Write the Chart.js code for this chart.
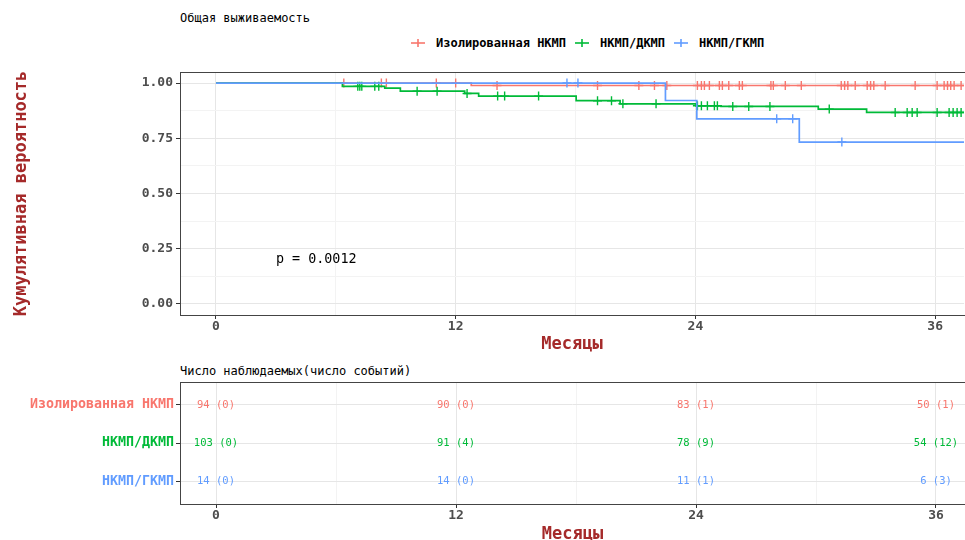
<!DOCTYPE html>
<html>
<head>
<meta charset="utf-8">
<script src="https://cdn.jsdelivr.net/npm/chart.js@4.4.0/dist/chart.umd.min.js"></script>
<style>
  body { margin: 0; background: #fff; width: 965px; height: 540px; overflow: hidden; position: relative; font-family: "DejaVu Sans Mono", monospace; }
  #kmWrap { position: absolute; left: 0; top: 0; }
  #riskWrap { position: absolute; left: 0; top: 360px; }
  .ttl { position: absolute; font-size: 12px; color: #000; white-space: nowrap; line-height: 14px; }
  #legend { position: absolute; top: 36px; left: 411px; font-size: 12px; font-weight: bold; color: #000; display: flex; align-items: center; white-space: nowrap; line-height: 14px; }
  #legend svg { margin-right: 11px; }
  #legend span { margin-right: 9px; }
</style>
</head>
<body>
<div class="ttl" style="left:180px; top:11px;">Общая выживаемость</div>
<div id="legend"></div>
<div class="ttl" style="left:180px; top:364px;">Число наблюдаемых(число событий)</div>
<div id="kmWrap"><canvas id="km" width="970" height="360"></canvas></div>
<div id="riskWrap"><canvas id="risk" width="965" height="185"></canvas></div>
<script>
// groups
const groups = ['Изолированная НКМП', 'НКМП/ДКМП', 'НКМП/ГКМП'];
const groupColors = ['#F8766D', '#00BA38', '#619CFF'];

// Kaplan-Meier steps (months, survival)
const isoTimes = [0, 12.78, 38];
const isoSurv = [1, 0.989, 0.989];
const isoCensor = [6.4, 8.28, 8.53, 11.03, 12.0, 14.07, 19.1, 21.17, 21.95, 22.57, 24.1, 24.3, 24.45, 24.7,
  25.2, 25.35, 25.67, 26.2, 26.35, 27.78, 27.9, 28.5, 29.3, 31.3, 31.47, 31.63, 32.0, 32.6, 32.77, 32.93,
  33.5, 35.0, 36.1, 36.45, 36.62, 36.78, 36.95, 37.3];

const dcmTimes = [0, 6.33, 8.45, 9.23, 12.45, 13.15, 18.03, 20.23, 24.03, 25.28, 30.15, 32.57, 38];
const dcmSurv = [1, 0.985, 0.977, 0.963, 0.953, 0.941, 0.920, 0.906, 0.897, 0.894, 0.882, 0.867, 0.867];
const dcmCensor = [7.1, 7.2, 7.3, 7.95, 8.15, 10.07, 11.07, 12.57, 14.1, 14.45, 16.15, 19.1, 19.8, 20.37,
  22.03, 24.1, 24.3, 24.6, 24.95, 25.1, 25.87, 26.67, 27.73, 30.7, 34.0, 34.6, 34.85, 35.1, 36.1, 36.7,
  36.9, 37.1, 37.3];

const gcmTimes = [0, 22.5, 24.07, 29.2, 38];
const gcmSurv = [1, 0.921, 0.838, 0.733, 0.733];
const gcmCensor = [17.57, 18.12, 28.07, 28.87, 31.33];

const pValueText = 'p = 0.0012';

// risk table
const riskTimes = [0, 12, 24, 36];
const nRiskIso = [94, 90, 83, 50];
const nEventIso = [0, 0, 1, 1];
const nRiskDcm = [103, 91, 78, 54];
const nEventDcm = [0, 4, 9, 12];
const nRiskGcm = [14, 14, 11, 6];
const nEventGcm = [0, 0, 1, 3];

// axes
const xTickValues = [0, 12, 24, 36];
const xMinor = [6, 18, 30];
const yTickValues = [0, 0.25, 0.5, 0.75, 1];
const yTickLabels = ['0.00', '0.25', '0.50', '0.75', '1.00'];
const yMinor = [0.125, 0.375, 0.625, 0.875];

const curveTimes = [isoTimes, dcmTimes, gcmTimes];
const curveSurv = [isoSurv, dcmSurv, gcmSurv];
const censorTimes = [isoCensor, dcmCensor, gcmCensor];
const nRisk = [nRiskIso, nRiskDcm, nRiskGcm];
const nEvent = [nEventIso, nEventDcm, nEventGcm];

function survAt(times, surv, t) {
  let s = surv[0];
  for (let k = 0; k < times.length; k++) {
    if (times[k] <= t) s = surv[k];
  }
  return s;
}

// legend
const legend = document.getElementById('legend');
groups.forEach((g, i) => {
  const c = groupColors[i];
  legend.insertAdjacentHTML('beforeend',
    `<svg width="14" height="10"><line x1="0" y1="5" x2="14" y2="5" stroke="${c}" stroke-width="1.6"/>` +
    `<line x1="7" y1="1" x2="7" y2="9" stroke="${c}" stroke-width="1.6"/></svg><span>${g}</span>`);
});

const tickFont = { family: 'DejaVu Sans Mono', weight: 'bold', size: 13 };
const axisTitleFont = { family: 'DejaVu Sans Mono', weight: 'bold', size: 17, lineHeight: 1 };
const axisTitleColor = '#a52a2a';
const majorGrid = '#e6e6e6';
const minorGrid = '#f3f3f3';

const frame = {
  id: 'frame',
  afterDraw(chart) {
    const a = chart.chartArea, ctx = chart.ctx;
    ctx.save();
    ctx.strokeStyle = '#444';
    ctx.lineWidth = 1;
    ctx.strokeRect(a.left + 0.5, a.top + 0.5, a.right - a.left + 5, a.bottom - a.top);
    ctx.restore();
  }
};

function xScale(height, titlePad) {
  return {
    type: 'linear', min: -1.8, max: 37.45,
    afterBuildTicks: s => { s.ticks = xTickValues.concat(xMinor).sort((a, b) => a - b).map(v => ({ value: v })); },
    afterFit: s => { s.height = height; },
    ticks: {
      font: tickFont, color: '#4d4d4d', padding: 0, maxRotation: 0,
      callback: v => xTickValues.includes(v) ? String(v) : ''
    },
    grid: {
      color: c => c.tick && xTickValues.includes(c.tick.value) ? majorGrid : minorGrid,
      tickColor: c => c.tick && xTickValues.includes(c.tick.value) ? '#333' : 'rgba(0,0,0,0)',
      tickLength: 4
    },
    border: { display: false },
    title: { display: true, text: 'Месяцы', color: axisTitleColor, font: axisTitleFont, padding: { top: 0, bottom: titlePad } }
  };
}

// survival curves
const kmDatasets = [];
groups.forEach((g, i) => {
  kmDatasets.push({
    label: g,
    data: curveTimes[i].map((t, k) => ({ x: t, y: curveSurv[i][k] })),
    showLine: true, stepped: 'before',
    borderColor: groupColors[i], borderWidth: 1.7,
    pointRadius: 0, order: 2 - i
  });
  kmDatasets.push({
    label: g + ' censor',
    data: censorTimes[i].map(t => ({ x: t, y: survAt(curveTimes[i], curveSurv[i], t) })),
    showLine: false, pointStyle: 'cross', pointRadius: 4.5,
    borderColor: groupColors[i], pointBorderWidth: 1.4, order: 2 - i
  });
});

const pLabel = {
  id: 'pLabel',
  afterDatasetsDraw(chart) {
    const ctx = chart.ctx;
    ctx.save();
    ctx.font = '13.4px "DejaVu Sans Mono"';
    ctx.fillStyle = '#000';
    ctx.textAlign = 'left';
    ctx.textBaseline = 'middle';
    ctx.fillText(pValueText, chart.scales.x.getPixelForValue(3), chart.scales.y.getPixelForValue(0.2));
    ctx.restore();
  }
};

new Chart(document.getElementById('km'), {
  type: 'scatter',
  data: { datasets: kmDatasets },
  options: {
    animation: false, responsive: false, devicePixelRatio: 1,
    layout: { padding: { top: 72, right: 0, left: 0, bottom: 0 } },
    plugins: { legend: { display: false }, tooltip: { enabled: false } },
    scales: {
      x: xScale(45, 6.5),
      y: {
        type: 'linear', min: -0.05, max: 1.05,
        afterBuildTicks: s => { s.ticks = yTickValues.concat(yMinor).sort((a, b) => a - b).map(v => ({ value: v })); },
        afterFit: s => { s.width = 180; },
        ticks: {
          font: tickFont, color: '#4d4d4d', padding: 3,
          callback: v => { const k = yTickValues.indexOf(v); return k >= 0 ? yTickLabels[k] : ''; }
        },
        grid: {
          color: c => c.tick && yTickValues.includes(c.tick.value) ? majorGrid : minorGrid,
          tickColor: c => c.tick && yTickValues.includes(c.tick.value) ? '#333' : 'rgba(0,0,0,0)',
          tickLength: 4
        },
        border: { display: false },
        title: { display: true, text: 'Кумулятивная вероятность', color: axisTitleColor, font: axisTitleFont, padding: { top: 13, bottom: 0 } }
      }
    }
  },
  plugins: [frame, pLabel]
});

// risk table
const riskDatasets = groups.map((g, i) => ({
  label: g,
  data: riskTimes.map(t => ({ x: t, y: groups.length - i })),
  pointRadius: 0, showLine: false
}));

const riskText = {
  id: 'riskText',
  afterDatasetsDraw(chart) {
    const ctx = chart.ctx;
    ctx.save();
    ctx.font = '10.5px "DejaVu Sans Mono"';
    ctx.textAlign = 'center';
    ctx.textBaseline = 'middle';
    chart.data.datasets.forEach((ds, i) => {
      ctx.fillStyle = groupColors[i];
      chart.getDatasetMeta(i).data.forEach((pt, k) => {
        ctx.fillText(`${nRisk[i][k]} (${nEvent[i][k]})`, pt.x, pt.y);
      });
    });
    ctx.restore();
  }
};

new Chart(document.getElementById('risk'), {
  type: 'scatter',
  data: { datasets: riskDatasets },
  options: {
    animation: false, responsive: false, devicePixelRatio: 1,
    layout: { padding: { top: 22, right: 0, left: 0, bottom: 0 } },
    plugins: { legend: { display: false }, tooltip: { enabled: false } },
    scales: {
      x: xScale(41, 1.5),
      y: {
        type: 'linear', min: 0.4, max: 3.6,
        afterBuildTicks: s => { s.ticks = [1, 2, 3].map(v => ({ value: v })); },
        afterFit: s => { s.width = 180; },
        ticks: {
          font: { family: 'DejaVu Sans Mono', weight: 'bold', size: 13.3 },
          color: c => groupColors[groups.length - c.tick.value],
          padding: 2,
          callback: v => groups[groups.length - v]
        },
        grid: { color: majorGrid, tickColor: '#333', tickLength: 4 },
        border: { display: false }
      }
    }
  },
  plugins: [frame, riskText]
});
</script>
</body>
</html>
